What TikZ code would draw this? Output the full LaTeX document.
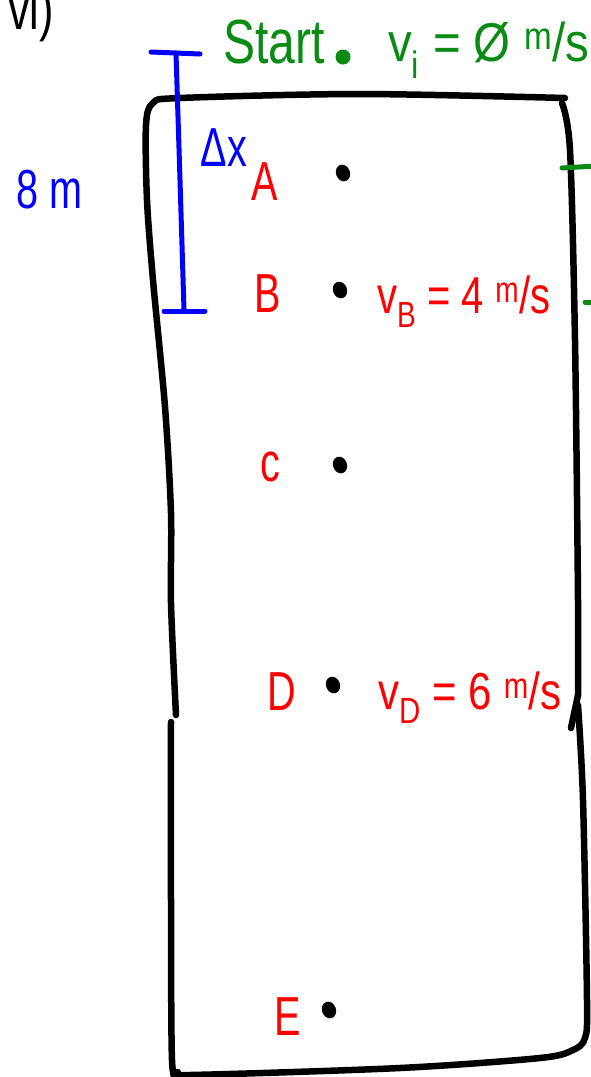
\documentclass[tikz,border=0pt]{standalone}
\usepackage{graphicx}
\usepackage{fontspec}
\setmainfont{Liberation Sans}
\definecolor{ink}{RGB}{0,0,0}
\definecolor{pgreen}{RGB}{10,140,20}
\definecolor{pred}{RGB}{255,0,0}
\definecolor{pblue}{RGB}{0,0,255}
\newcommand{\hand}[1]{\scalebox{0.9}[1.25]{#1}}
\newcommand{\handwide}[2]{\scalebox{#1}[1.3]{#2}}
\tikzset{
  stroke/.style={line width=6.5pt, line cap=round, line join=round, ink},
  bluestroke/.style={line width=5pt, line cap=round, pblue},
  greenstroke/.style={line width=5pt, line cap=round, pgreen},
  dotmark/.style={ellipse, fill=ink, inner sep=0pt, minimum width=14pt, minimum height=17pt, rotate=20},
  redlab/.style={text=pred, font=\fontsize{44}{44}\selectfont, inner sep=0pt},
  redeq/.style={text=pred, font=\fontsize{40}{40}\selectfont, inner sep=0pt, anchor=west},
}
\usetikzlibrary{shapes.geometric}
\begin{document}
\begin{tikzpicture}[x=1pt,y=-1pt]
\useasboundingbox (0,0) rectangle (591,1077);
\begin{scope}
\clip (0,0) rectangle (591,1077);
% title fragment
\node[text=ink, font=\fontsize{48}{48}\selectfont, inner sep=0pt, anchor=south west] (title) at (8,42) {\hand{vi)}};
% box strokes
\draw[stroke] plot[smooth, tension=0.5] coordinates {(565,98) (360,94) (180,98) (153,103) (146,125) (147,200) (153,280) (165,407) (171,513) (171,603) (176,715)};
\draw[stroke] plot[smooth, tension=0.5] coordinates {(171,722) (171,900) (172,1060) (178,1072) (190,1075) (400,1068) (540,1058) (573,1050) (585,1038) (587,1000) (583,800) (578,705)};
\draw[stroke] plot[smooth, tension=0.5] coordinates {(562,103) (570,150) (575,340) (578,600) (578,695)};
\draw[stroke] (578,695) -- (571,728);
% green marks on right
\draw[greenstroke] (562,168) -- (595,166);
\draw[greenstroke] (585,302) -- (595,302);
% start
\node[text=pgreen, font=\fontsize{48}{48}\selectfont, inner sep=0pt] (start) at (274,42) {\handwide{1.0}{Start}};
\node[circle, fill=pgreen, inner sep=0pt, minimum size=15pt] (sdot) at (343,57) {};
\node[text=pgreen, font=\fontsize{42}{42}\selectfont, inner sep=0pt, anchor=west] (vi) at (388,50) {\handwide{1.13}{v\textsubscript{i} = Ø \textsuperscript{m}/s}};
% blue measure
\coordinate (btop) at (176,53);
\coordinate (bbot) at (184,310);
\draw[bluestroke] (151,52) -- (200,54);
\draw[bluestroke] (btop) -- (180,180) -- (bbot);
\draw[bluestroke] (164,311) -- (205,311);
\node[text=pblue, font=\fontsize{44}{44}\selectfont, inner sep=0pt] (dx) at (224,148) {\hand{Δx}};
\node[text=pblue, font=\fontsize{44}{44}\selectfont, inner sep=0pt] (eight) at (50,190) {\hand{8 m}};
% points
\node[redlab] (A) at (265,182) {\hand{A}};
\node[dotmark] (dA) at (343,173) {};
\node[redlab] (B) at (268,294) {\hand{B}};
\node[dotmark] (dB) at (340,290) {};
\node[redeq] (vB) at (377,302) {\handwide{1.0}{v\textsubscript{B} = 4 \textsuperscript{m}/s}};
\node[redlab] (C) at (270,467) {\hand{c}};
\node[dotmark] (dC) at (340,465) {};
\node[redlab] (D) at (282,692) {\hand{D}};
\node[dotmark] (dD) at (333,685) {};
\node[redeq] (vD) at (378,698) {\handwide{1.05}{v\textsubscript{D} = 6 \textsuperscript{m}/s}};
\node[redlab] (E) at (288,1017) {\hand{E}};
\node[dotmark] (dE) at (329,1010) {};
\end{scope}
\end{tikzpicture}
\end{document}
